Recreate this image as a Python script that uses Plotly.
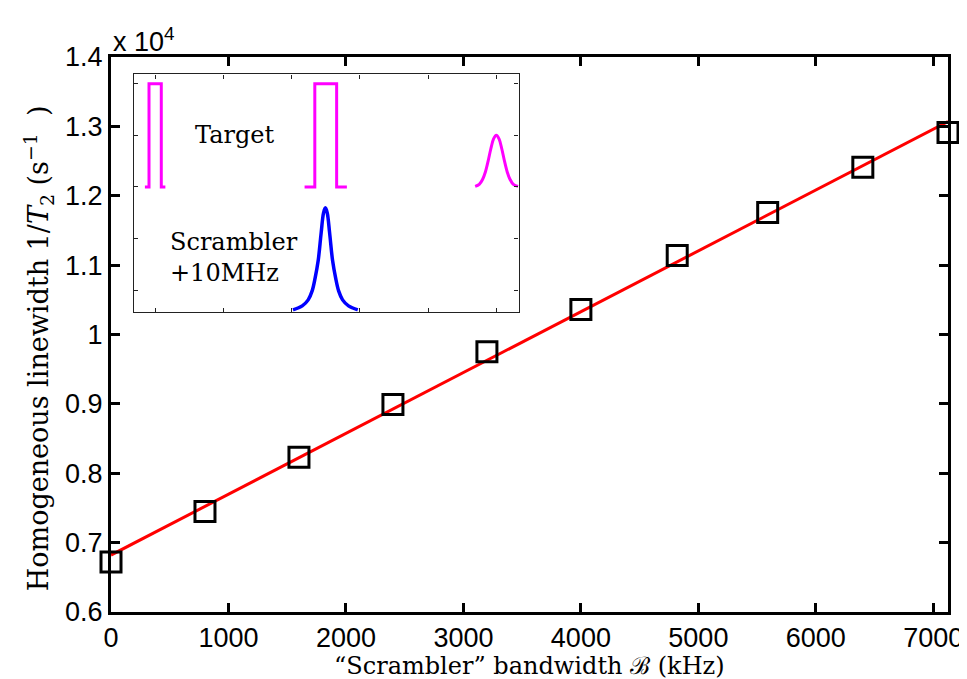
import numpy as np
import plotly.graph_objects as go

# ---------------- data ----------------
bandwidth_khz = [0, 800, 1600, 2400, 3200, 4000, 4820, 5590, 6400, 7125]
linewidth_inv_t2 = [6720, 7450, 8230, 8990, 9750, 10360, 11140, 11760, 12410, 12910]

y_tick_vals = [6000, 7000, 8000, 9000, 10000, 11000, 12000, 13000, 14000]
y_tick_text = ["0.6", "0.7", "0.8", "0.9", "1", "1.1", "1.2", "1.3", "1.4"]
x_tick_vals = [0, 1000, 2000, 3000, 4000, 5000, 6000, 7000]

# inset (schematic) curves, in inset units
target_pulse1_x = [-0.15, -0.09, -0.09, 0.09, 0.09, 0.15]
target_pulse1_y = [2, 2, 4, 4, 2, 2]
target_pulse2_x = [2.19, 2.34, 2.34, 2.66, 2.66, 2.81]
target_pulse2_y = [2, 2, 4, 4, 2, 2]
target_peak_x = [4.69, 4.75, 4.80, 4.84, 4.88, 4.92, 4.96, 5.00, 5.04, 5.08, 5.12, 5.16, 5.20, 5.25, 5.32]
target_peak_y = [2.01, 2.05, 2.15, 2.29, 2.50, 2.74, 2.93, 3.00, 2.93, 2.74, 2.50, 2.29, 2.15, 2.05, 2.01]
scrambler_x = [2.02, 2.156, 2.243, 2.301, 2.345, 2.389, 2.433, 2.468, 2.495,
               2.522, 2.557, 2.601, 2.645, 2.689, 2.747, 2.834, 2.97]
scrambler_y = [-0.382, -0.304, -0.188, -0.014, 0.238, 0.568, 1.110, 1.498, 1.595,
               1.498, 1.110, 0.568, 0.238, -0.014, -0.188, -0.304, -0.382]

# linear fit
slope, intercept = np.polyfit(bandwidth_khz, linewidth_inv_t2, 1)
fit_x = [0, max(bandwidth_khz)]
fit_y = [intercept + slope * v for v in fit_x]

SERIF = "DejaVu Serif, Liberation Serif, serif"
SANS = "Liberation Sans, Arial, sans-serif"

fig = go.Figure()

fig.add_trace(go.Scatter(
    x=fit_x, y=fit_y, mode="lines",
    line=dict(color="#ff0000", width=3), showlegend=False,
    xaxis="x", yaxis="y"))
fig.add_trace(go.Scatter(
    x=bandwidth_khz, y=linewidth_inv_t2, mode="markers",
    marker=dict(symbol="square-open", size=20, color="black",
                line=dict(color="black", width=3)),
    showlegend=False, cliponaxis=False, xaxis="x", yaxis="y"))

# inset traces
for xs, ys in [(target_pulse1_x, target_pulse1_y),
               (target_pulse2_x, target_pulse2_y)]:
    fig.add_trace(go.Scatter(x=xs, y=ys, mode="lines",
                             line=dict(color="#ff00ff", width=3),
                             showlegend=False, xaxis="x2", yaxis="y2"))
fig.add_trace(go.Scatter(x=target_peak_x, y=target_peak_y, mode="lines",
                         line=dict(color="#ff00ff", width=3, shape="spline"),
                         showlegend=False, xaxis="x2", yaxis="y2"))
fig.add_trace(go.Scatter(x=scrambler_x, y=scrambler_y, mode="lines",
                         line=dict(color="#0000ff", width=3.5, shape="spline"),
                         showlegend=False, xaxis="x2", yaxis="y2"))

axis_common = dict(showline=True, linecolor="black", linewidth=3, mirror="ticks",
                   ticks="inside", ticklen=9, tickwidth=3, tickcolor="black",
                   showgrid=False, zeroline=False,
                   tickfont=dict(family=SANS, size=27, color="black"))

fig.update_layout(
    width=967, height=679,
    margin=dict(l=103, r=20, t=49, b=75),
    paper_bgcolor="white", plot_bgcolor="white",
    xaxis=dict(range=[0, max(bandwidth_khz)], tickvals=x_tick_vals,
               domain=[0, 1], anchor="y", **axis_common),
    yaxis=dict(range=[6000, 14000], tickvals=y_tick_vals, ticktext=y_tick_text,
               domain=[0, 1], anchor="x", **axis_common),
    xaxis2=dict(range=[-0.317, 5.327], domain=[0.0269, 0.487], anchor="y2",
                tickvals=[0, 1, 2, 3, 4, 5], showticklabels=False,
                showline=True, linecolor="#222222", linewidth=1.3, mirror="ticks",
                ticks="inside", ticklen=4, tickwidth=1, tickcolor="#222222",
                showgrid=False, zeroline=False),
    yaxis2=dict(range=[-0.42, 4.18], domain=[0.5408, 0.9686], anchor="x2",
                tickvals=[0, 1, 2, 3, 4], showticklabels=False,
                showline=True, linecolor="#222222", linewidth=1.3, mirror="ticks",
                ticks="inside", ticklen=4, tickwidth=1, tickcolor="#222222",
                showgrid=False, zeroline=False),
    annotations=[
        dict(text="Homogeneous linewidth 1/<i>T</i><sub>2</sub> (s<sup>\u22121</sup>  )",
             xref="paper", yref="paper", x=-0.0867, y=0.476, textangle=-90,
             showarrow=False, xanchor="center", yanchor="middle",
             font=dict(family=SERIF, size=27, color="black")),
        dict(text="\u201cScrambler\u201d bandwidth \u212c (kHz)",
             xref="paper", yref="paper", x=0.5, y=-0.1262,
             showarrow=False, xanchor="center", yanchor="bottom",
             font=dict(family=SERIF, size=24, color="black")),
        dict(text="x 10<sup>4</sup>", xref="paper", yref="paper", x=0.0, y=1.031,
             showarrow=False, xanchor="left", yanchor="middle",
             font=dict(family=SANS, size=27, color="black")),
        dict(text="Target", xref="paper", yref="paper", x=0.1473, y=0.860,
             showarrow=False, xanchor="center", yanchor="middle",
             font=dict(family=SERIF, size=24, color="black")),
        dict(text="Scrambler<br>+10MHz", xref="paper", yref="paper", x=0.0684, y=0.638,
             showarrow=False, xanchor="left", yanchor="middle", align="left",
             font=dict(family=SERIF, size=24, color="black")),
    ],
)

fig.write_html("out.html")
